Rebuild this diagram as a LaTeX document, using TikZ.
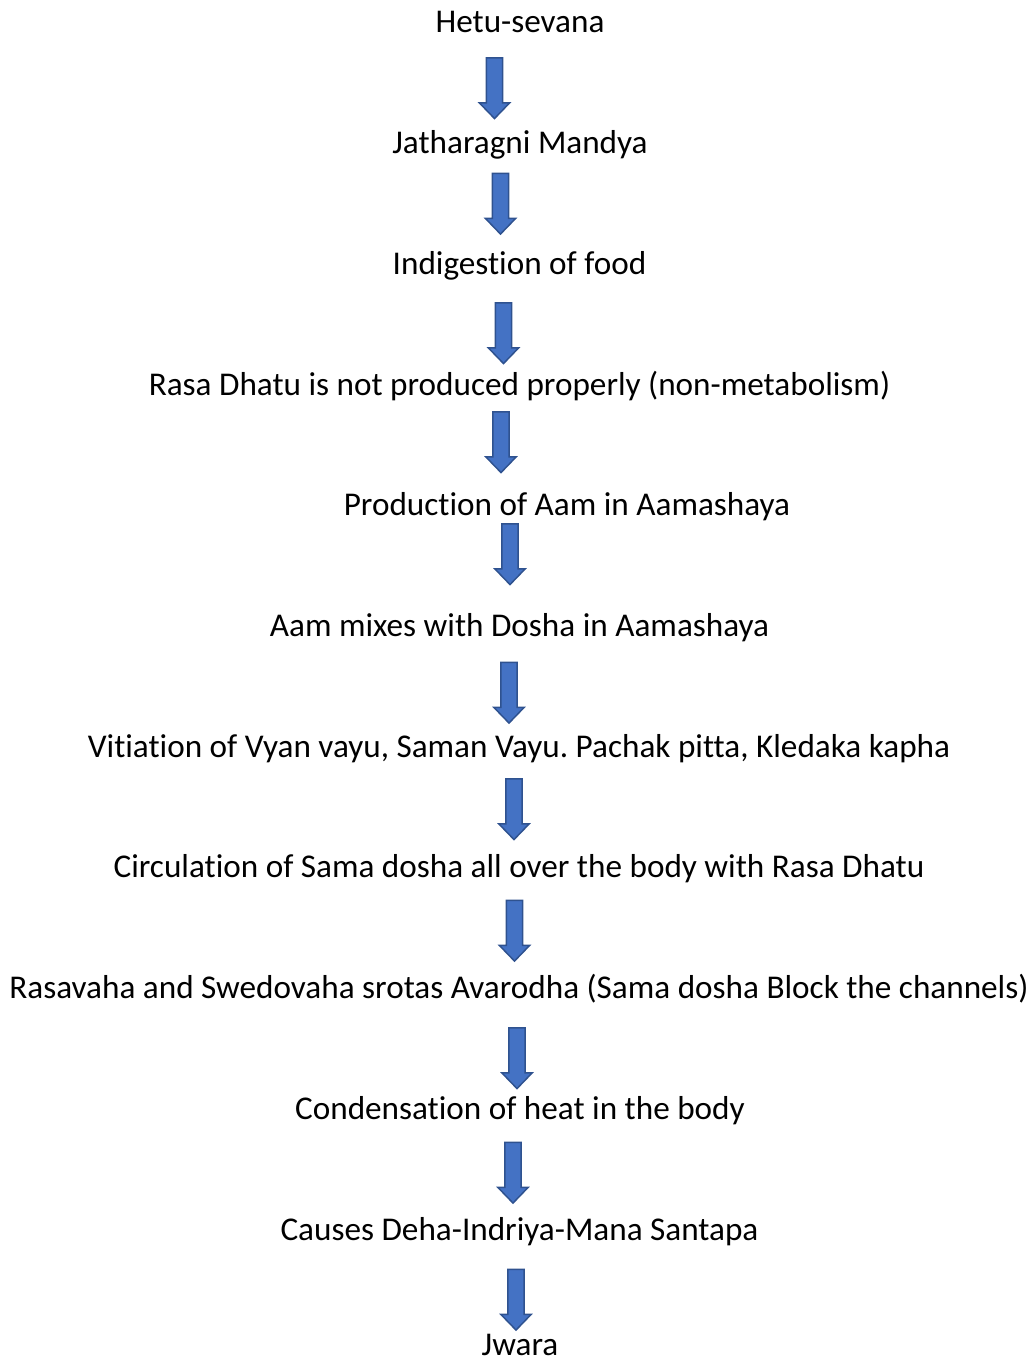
\documentclass[tikz,border=0pt]{standalone}
\usepackage{fontspec}
\setmainfont{Carlito}[Ligatures=NoCommon]
\usepackage{tikz}
\usetikzlibrary{shapes.arrows}
\frenchspacing

\definecolor{arrowblue}{HTML}{4472C4}
\definecolor{arrowedge}{HTML}{2F528F}

\tikzset{
	stagetext/.style={anchor=base, inner sep=0pt, font=\fontsize{24.9}{30}\selectfont},
	downarrow/.style={single arrow, rotate=-90, draw=arrowedge, fill=arrowblue, line width=1.1pt,
		inner sep=5.6pt, minimum height=45.5pt,
		single arrow head extend=5.25pt, single arrow tip angle=88}
}

\begin{document}
\begin{tikzpicture}[x=0.75pt, y=-0.75pt]
	\useasboundingbox (0,0) rectangle (1033,1362);
	\node[stagetext] (hetu) at (520,33) {Hetu-sevana};
	\node[stagetext] (mandya) at (520,153.5) {Jatharagni Mandya};
	\node[stagetext] (indigestion) at (519.5,274.5) {Indigestion of food};
	\node[stagetext] (rasa) at (519.5,395.5) {Rasa Dhatu is not produced properly (non-metabolism)};
	\node[stagetext] (aam) at (567,515.5) {Production of Aam in Aamashaya};
	\node[stagetext] (mixes) at (519.5,636.5) {Aam mixes with Dosha in Aamashaya};
	\node[stagetext] (vitiation) at (519,757.5) {Vitiation of Vyan vayu, Saman Vayu. Pachak pitta, Kledaka kapha};
	\node[stagetext] (circulation) at (519,877.5) {Circulation of Sama dosha all over the body with Rasa Dhatu};
	\node[stagetext] (avarodha) at (519,998.5) {Rasavaha and Swedovaha srotas Avarodha (Sama dosha Block the channels)};
	\node[stagetext] (condensation) at (520,1119.5) {Condensation of heat in the body};
	\node[stagetext] (santapa) at (519.5,1240.5) {Causes Deha-Indriya-Mana Santapa};
	\node[stagetext] (jwara) at (520,1355) {Jwara};
	% block arrows between the stages
	\node[downarrow] (ar1) at (494.5,84) {};
	\node[downarrow] (ar2) at (500.5,199.5) {};
	\node[downarrow] (ar3) at (503.5,329) {};
	\node[downarrow] (ar4) at (501,438) {};
	\node[downarrow] (ar5) at (510,550) {};
	\node[downarrow] (ar6) at (509,688.5) {};
	\node[downarrow] (ar7) at (514,805) {};
	\node[downarrow] (ar8) at (514.5,926.5) {};
	\node[downarrow] (ar9) at (517,1054) {};
	\node[downarrow] (ar10) at (513,1168.5) {};
	\node[downarrow] (ar11) at (516,1295.5) {};
\end{tikzpicture}
\end{document}
